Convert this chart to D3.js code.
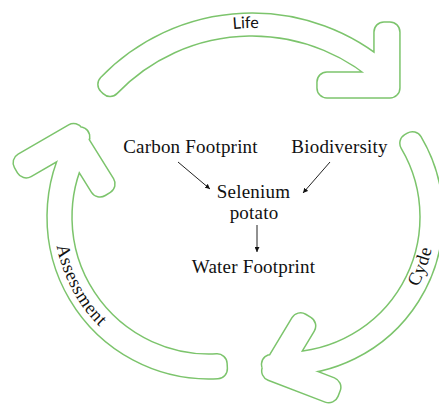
<!DOCTYPE html>
<html>
<head>
<meta charset="utf-8">
<script src="https://cdn.jsdelivr.net/npm/d3@7"></script>
<style>
  html, body { margin: 0; padding: 0; background: #fff; }
  svg { display: block; }
</style>
</head>
<body>
<svg id="chart"></svg>
<script>
const width = 439, height = 412;

// the three cycle arrows (clockwise): circle centre, outer/inner radius, tail angle,
// tip in polar form, head direction and half opening angle (degrees, screen)
const arrowNames = ['Life', 'Cyde', 'Assessment'];
const arrowCentres = [[252, 223], [285, 217], [209, 217]];
const arrowRadii = [[210, 187], [158, 135], [162, 137]];
const tailAngles = [-139, -34.5, 83];
const tipPolar = [[-40.2, 193.7], [100, 161.4], [216.3, 163.8]];
const headDirs = [45, 161, 284];
const headHalf = [45, 40, 46];
const armLens = [[76, 83], [83, 78], [78, 79]]; // outer arm, inner arm
const armWidth = 26;

// labels written along the arrows
const labelAngles = [-91.8, 20, 152];
const labelRadii = [195, 150, 155];
const labelReverse = [false, true, true];
const labelSizes = [16, 18.5, 18.5];

// centre flow chart
const nodeLabels = ['Carbon Footprint', 'Biodiversity', 'Selenium', 'potato', 'Water Footprint'];
const nodeX = [190.5, 339.5, 253.5, 254, 253.5];
const nodeY = [153, 153, 198, 219, 273];
const links = [[[178, 162], [210, 189]], [[330, 162], [303, 193]], [[257, 225], [257, 252]]];

const green = '#7cc46c';
const round = 10; // corner rounding of the arrow outlines
const rad = Math.PI / 180;

const svg = d3.select('#chart')
  .attr('width', width)
  .attr('height', height);

svg.append('defs').append('marker')
  .attr('id', 'head')
  .attr('viewBox', '0 0 10 10')
  .attr('refX', 10).attr('refY', 5)
  .attr('markerWidth', 5).attr('markerHeight', 5)
  .attr('markerUnits', 'userSpaceOnUse')
  .attr('orient', 'auto')
  .append('path')
  .attr('d', 'M0,0L10,5L0,10Z')
  .attr('fill', '#111');

function arrowPath(i) {
  const [cx, cy] = arrowCentres[i];
  const ro = arrowRadii[i][0] - round;
  const ri = arrowRadii[i][1] + round;
  const rm = (arrowRadii[i][0] + arrowRadii[i][1]) / 2;
  const a0 = tailAngles[i] * rad + round / rm;

  const ta = tipPolar[i][0] * rad, tr = tipPolar[i][1];
  const tip = [cx + tr * Math.cos(ta), cy + tr * Math.sin(ta)];
  const h = headHalf[i] * rad;
  const dir = headDirs[i] * rad;
  const B = [Math.cos(dir), Math.sin(dir)];
  const k = round / Math.sin(h);
  const ts = [tip[0] - B[0] * k, tip[1] - B[1] * k];

  const uO = [Math.cos(dir + Math.PI + h), Math.sin(dir + Math.PI + h)];
  const uI = [Math.cos(dir + Math.PI - h), Math.sin(dir + Math.PI - h)];
  const t = armWidth - 2 * round;

  function inward(u) {
    const d = -B[0] * u[0] - B[1] * u[1];
    const n = [-B[0] - d * u[0], -B[1] - d * u[1]];
    const l = Math.hypot(n[0], n[1]);
    return [n[0] / l, n[1] / l];
  }
  const nO = inward(uO), nI = inward(uI);
  const LO = armLens[i][0] - round - round / Math.tan(h);
  const LI = armLens[i][1] - round - round / Math.tan(h);

  const endO = [ts[0] + uO[0] * LO, ts[1] + uO[1] * LO];
  const endOin = [endO[0] + nO[0] * t, endO[1] + nO[1] * t];
  const endI = [ts[0] + uI[0] * LI, ts[1] + uI[1] * LI];
  const endIin = [endI[0] + nI[0] * t, endI[1] + nI[1] * t];

  // where a circle meets the inner edge of an arm
  function hit(p0, u, r) {
    const dx = p0[0] - cx, dy = p0[1] - cy;
    const b = dx * u[0] + dy * u[1];
    const c = dx * dx + dy * dy - r * r;
    const disc = Math.sqrt(Math.max(0, b * b - c));
    const s1 = -b - disc, s2 = -b + disc;
    const s = s1 >= 0 ? s1 : s2;
    return [p0[0] + u[0] * s, p0[1] + u[1] * s];
  }
  const notchO = hit([ts[0] + nO[0] * t, ts[1] + nO[1] * t], uO, ro);
  const notchI = hit([ts[0] + nI[0] * t, ts[1] + nI[1] * t], uI, ri);
  const aO = Math.atan2(notchO[1] - cy, notchO[0] - cx);
  const aI = Math.atan2(notchI[1] - cy, notchI[0] - cx);

  const p = d3.path();
  p.moveTo(cx + ro * Math.cos(a0), cy + ro * Math.sin(a0));
  p.arc(cx, cy, ro, a0, aO, false);
  p.lineTo(endOin[0], endOin[1]);
  p.lineTo(endO[0], endO[1]);
  p.lineTo(ts[0], ts[1]);
  p.lineTo(endI[0], endI[1]);
  p.lineTo(endIin[0], endIin[1]);
  p.lineTo(notchI[0], notchI[1]);
  p.arc(cx, cy, ri, aI, a0, true);
  p.closePath();
  return p.toString();
}

function labelPath(i) {
  const [cx, cy] = arrowCentres[i];
  const a = labelAngles[i] * rad, r = labelRadii[i];
  const p = d3.path();
  if (labelReverse[i]) {
    p.moveTo(cx + r * Math.cos(a + Math.PI / 2), cy + r * Math.sin(a + Math.PI / 2));
    p.arc(cx, cy, r, a + Math.PI / 2, a - Math.PI / 2, true);
  } else {
    p.moveTo(cx + r * Math.cos(a - Math.PI / 2), cy + r * Math.sin(a - Math.PI / 2));
    p.arc(cx, cy, r, a - Math.PI / 2, a + Math.PI / 2, false);
  }
  return p.toString();
}

const arrows = svg.append('g')
  .selectAll('g')
  .data(arrowNames)
  .enter()
  .append('g');

arrows.append('path')
  .attr('d', (d, i) => arrowPath(i))
  .attr('fill', 'none')
  .attr('stroke', green)
  .attr('stroke-width', 2 * round + 1.5)
  .attr('stroke-linejoin', 'round');

arrows.append('path')
  .attr('d', (d, i) => arrowPath(i))
  .attr('fill', '#fff')
  .attr('stroke', '#fff')
  .attr('stroke-width', 2 * round - 1.5)
  .attr('stroke-linejoin', 'round');

arrows.append('path')
  .attr('id', (d, i) => 'lp' + i)
  .attr('d', (d, i) => labelPath(i))
  .attr('fill', 'none');

arrows.append('text')
  .attr('font-family', (d, i) => i === 0 ? 'Lato, sans-serif' : '"Liberation Serif", serif')
  .attr('font-size', (d, i) => labelSizes[i])
  .attr('letter-spacing', (d, i) => i === 0 ? 0 : 0.6)
  .attr('fill', '#111')
  .append('textPath')
  .attr('href', (d, i) => '#lp' + i)
  .attr('startOffset', '50%')
  .attr('text-anchor', 'middle')
  .text(d => d);

// centre labels and arrows
svg.append('g')
  .selectAll('text')
  .data(nodeLabels)
  .enter()
  .append('text')
  .attr('x', (d, i) => nodeX[i])
  .attr('y', (d, i) => nodeY[i])
  .attr('text-anchor', 'middle')
  .attr('font-family', '"Liberation Serif", serif')
  .attr('font-size', 19)
  .attr('letter-spacing', 0.2)
  .attr('fill', '#111')
  .text(d => d);

svg.append('g')
  .selectAll('line')
  .data(links)
  .enter()
  .append('line')
  .attr('x1', d => d[0][0])
  .attr('y1', d => d[0][1])
  .attr('x2', d => d[1][0])
  .attr('y2', d => d[1][1])
  .attr('stroke', '#222')
  .attr('stroke-width', 1)
  .attr('marker-end', 'url(#head)');
</script>
</body>
</html>
